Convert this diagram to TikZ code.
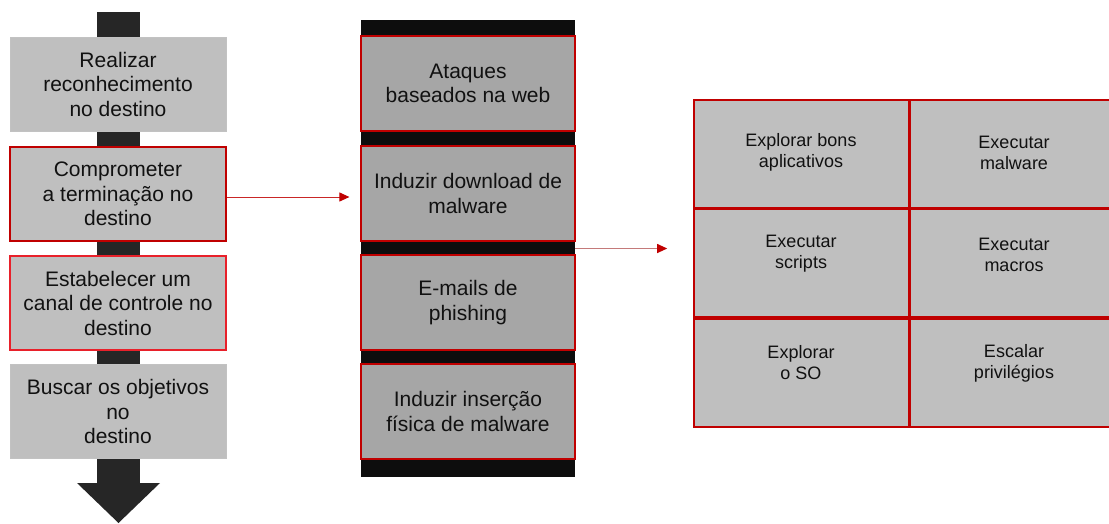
\documentclass[tikz,border=0pt]{standalone}
\usepackage{fontspec}
\setmainfont{Liberation Sans}
\usetikzlibrary{arrows.meta,calc}
\definecolor{lgray}{HTML}{BFBFBF}
\definecolor{mgray}{HTML}{A6A6A6}
\definecolor{shaft}{HTML}{262626}
\definecolor{blk}{HTML}{0D0D0D}
\definecolor{dred}{HTML}{C00000}
\definecolor{bred}{HTML}{E8202A}
\definecolor{pred}{HTML}{C47A7A}
\definecolor{txt}{HTML}{111111}
\tikzset{
  leftbox/.style={rectangle, fill=lgray, minimum width=216pt, minimum height=94pt, inner sep=0pt, align=center, text=txt, font=\fontsize{21pt}{24.5pt}\selectfont},
  midbox/.style={rectangle, fill=mgray, draw=dred, line width=1.2pt, minimum width=214pt, minimum height=95pt, inner sep=0pt, align=center, text=txt, font=\fontsize{21pt}{24.5pt}\selectfont},
  celltext/.style={align=center, text=txt, inner sep=0pt, font=\fontsize{18pt}{21pt}\selectfont},
  link/.style={line width=1pt, -{Triangle[length=10pt,width=9pt,color=dred,fill=dred]}},
}
\begin{document}
\begin{tikzpicture}[x=1pt,y=-1pt]
\useasboundingbox (0,0) rectangle (1109,523);
\clip (0,0) rectangle (1109,523);
% left column: shaft and down arrow
\fill[shaft] (97,12) rectangle (140,484);
\fill[shaft] (77,483) -- (160,483) -- (118.5,523) -- cycle;
\node[leftbox, draw=lgray!80!black!60, line width=0.6pt] (L1) at (118,84) {Realizar\\reconhecimento\\no destino};
\node[leftbox, draw=dred, line width=2pt] (L2) at (118,194) {Comprometer\\a terminação no\\destino};
\node[leftbox, draw=bred, line width=2pt] (L3) at (118,303) {Estabelecer um\\canal de controle no\\destino};
\node[leftbox, draw=lgray!80!black!60, line width=0.6pt] (L4) at (118,411.5) {Buscar os objetivos\\no\\destino};
% middle column
\node[rectangle, fill=blk, minimum width=214pt, minimum height=457pt, inner sep=0pt] (M) at (468,248.5) {};
\node[midbox] (M1) at (468,83.5) {Ataques\\baseados na web};
\node[midbox] (M2) at (468,193.5) {Induzir download de\\malware};
\node[midbox] (M3) at (468,302.5) {E-mails de\\phishing};
\node[midbox] (M4) at (468,411.5) {Induzir inserção\\física de malware};
% grid
\node[rectangle, fill=lgray, draw=dred, line width=1.6pt, minimum width=431pt, minimum height=327pt, inner sep=0pt] (G) at (909.5,263.5) {};
\draw[dred, line width=3pt] (909,100) -- (909,427);
\draw[dred, line width=3.5pt] (694,208.5) -- (1125,208.5);
\draw[dred, line width=3.5pt] (694,318) -- (1125,318);
\node[celltext] (C11) at (801,152.5) {Explorar bons\\aplicativos};
\node[celltext] (C12) at (1014,152.5) {Executar\\malware};
\node[celltext] (C21) at (801,253.5) {Executar\\scripts};
\node[celltext] (C22) at (1014,254.5) {Executar\\macros};
\node[celltext] (C31) at (801,363) {Explorar\\o SO};
\node[celltext] (C32) at (1014,363) {Escalar\\privilégios};
% connectors
\draw[link, draw=dred!85!white] ([yshift=-3pt]L2.east) -- ([yshift=-3pt]L2.east -| M2.west) [shorten >=11pt];
\draw[link, draw=pred] (M.east) -- (M.east -| G.west) [shorten >=26pt];
\end{tikzpicture}
\end{document}
